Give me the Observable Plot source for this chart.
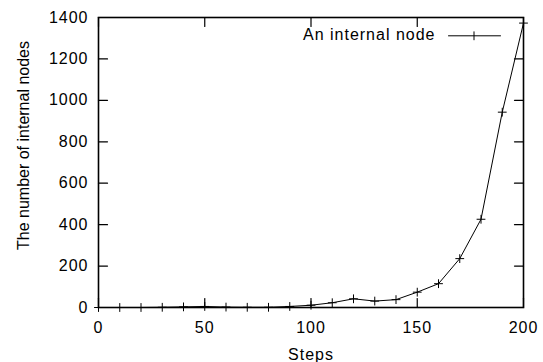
<!DOCTYPE html>
<html>
<head>
<meta charset="utf-8">
<script src="https://cdn.jsdelivr.net/npm/d3@7"></script>
<script src="https://cdn.jsdelivr.net/npm/@observablehq/plot@0.6"></script>
<style>
  html, body { margin: 0; padding: 0; background: #fff; }
  svg { display: block; }
</style>
</head>
<body>
<div id="chart"></div>
<script>
const steps = [0, 10, 20, 30, 40, 50, 60, 70, 80, 90, 100, 110, 120, 130, 140, 150, 160, 170, 180, 190, 200];
const nodes = [0, 0, 0, 1, 3, 5, 2, 1, 1, 5, 11, 23, 42, 31, 38, 74, 115, 236, 426, 943, 1373];
const xTicks = [0, 50, 100, 150, 200];
const yTicks = [0, 200, 400, 600, 800, 1000, 1200, 1400];
const seriesName = "An internal node";
const xLabel = "Steps";
const yLabel = "The number of internal nodes";

const data = steps.map((s, i) => ({step: s, value: nodes[i]}));
const ink = "#000";
const seg = {draw(context, l) { context.moveTo(0, 0); context.lineTo(0, -l); }};

const chart = Plot.plot({
  width: 543,
  height: 362,
  marginLeft: 98,
  marginRight: 20,
  marginTop: 17,
  marginBottom: 55,
  style: {fontFamily: "'Liberation Sans', Arial, sans-serif", fontSize: "16px", color: ink, background: "#fff", overflow: "visible"},
  x: {domain: [0, 200]},
  y: {domain: [0, 1400]},
  marks: [
    // data line
    Plot.line(data, {x: "step", y: "value", stroke: ink, strokeWidth: 1}),
    // plus markers
    Plot.vector(data, {x: "step", y: "value", shape: seg, length: 8, rotate: 0, anchor: "middle", stroke: ink, strokeWidth: 1}),
    Plot.vector(data, {x: "step", y: "value", shape: seg, length: 8, rotate: 90, anchor: "middle", stroke: ink, strokeWidth: 1}),
    // inward ticks
    Plot.vector(yTicks, {x: 0, y: d => d, shape: seg, length: 9, rotate: 90, anchor: "start", stroke: ink, strokeWidth: 1.2}),
    Plot.vector(yTicks, {x: 200, y: d => d, shape: seg, length: 9, rotate: 270, anchor: "start", stroke: ink, strokeWidth: 1.2}),
    Plot.vector(xTicks, {x: d => d, y: 0, shape: seg, length: 9, rotate: 0, anchor: "start", stroke: ink, strokeWidth: 1.2}),
    Plot.vector(xTicks, {x: d => d, y: 1400, shape: seg, length: 9, rotate: 180, anchor: "start", stroke: ink, strokeWidth: 1.2}),
    // tick labels
    Plot.axisY({ticks: yTicks, tickSize: 0, tickPadding: 10, label: null, tickFormat: d => String(d), fontSize: 16}),
    Plot.axisX({ticks: xTicks, tickSize: 0, tickPadding: 14, label: null, tickFormat: d => String(d), fontSize: 16}),
    // axis titles
    Plot.text([xLabel], {frameAnchor: "bottom", dy: 47, lineAnchor: "middle", text: d => d, fontSize: 16}),
    Plot.text([yLabel], {frameAnchor: "left", dx: -75, dy: -17, rotate: -90, textAnchor: "middle", lineAnchor: "middle", text: d => d, fontSize: 16}),
    // legend
    Plot.text([seriesName], {frameAnchor: "top-right", dx: -88, dy: 17.5, textAnchor: "end", lineAnchor: "middle", text: d => d, fontSize: 16}),
    Plot.vector([seriesName], {frameAnchor: "top-right", dx: -75, dy: 18.3, shape: seg, length: 52, rotate: 90, anchor: "start", stroke: ink, strokeWidth: 1}),
    Plot.vector([seriesName], {frameAnchor: "top-right", dx: -49.5, dy: 18.3, shape: seg, length: 8, rotate: 0, anchor: "middle", stroke: ink, strokeWidth: 1}),
    // frame
    Plot.frame({stroke: ink, strokeWidth: 1.6})
  ]
});

chart.querySelectorAll("text").forEach(t => {
  if (t.textContent !== yLabel) t.setAttribute("letter-spacing", "1");
});
document.getElementById("chart").appendChild(chart);
</script>
</body>
</html>
